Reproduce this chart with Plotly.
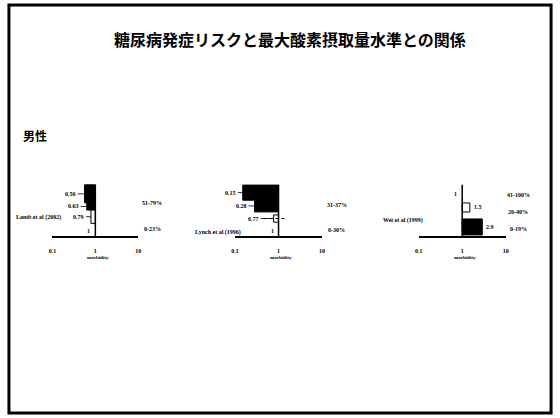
import math
import plotly.graph_objects as go

# ---------------- data ----------------
title_text = "糖尿病発症リスクと最大酸素摂取量水準との関係"
sex_label = "男性"
axis_title = "morbidity"
tick_vals = [0.1, 1, 10]
tick_text = ["0.1", "1", "10"]

p1_study = "Lamb et al (2002)"
p1_rr = [0.56, 0.63, 0.79]
p1_groups = ["51-79%", "0-23%"]

p2_study = "Lynch et al (1996)"
p2_rr = [0.15, 0.28, 0.77]
p2_ci_low = [None, None, 0.45]
p2_ci_high = [None, None, 1.5]
p2_groups = ["31-37%", "0-30%"]

p3_study = "Wei et al (1999)"
p3_rr = [1.5, 2.9]
p3_groups = ["41-100%", "20-40%", "0-19%"]

# ---------------- layout helpers ----------------
W, H = 560, 418
def px(x):
    return x / W
def py(y):
    return 1 - y / H

FONT_S = dict(family="Liberation Serif", size=6, color="black", weight="bold")

panels = [
    dict(rr=p1_rr, rows=[3.5, 2.45, 1.6], widths=[1.5, 0.6, 1.1],
         fills=["black", "black", "white"], ref_row=0.45,
         label_side="left", dom=(49, 136), study=p1_study, study_xy=(35, 218),
         groups=p1_groups, group_xy=[(150, 203), (150, 229)], ci=None, label_ax=[-14, -13, -12]),
    dict(rr=p2_rr, rows=[3.6, 2.5, 1.45], widths=[1.25, 1.0, 0.6],
         fills=["black", "black", "white"], ref_row=0.45,
         label_side="left", dom=(234, 322), study=p2_study, study_xy=(217, 232),
         groups=p2_groups, group_xy=[(337, 205), (337, 230)],
         ci=(p2_ci_low, p2_ci_high), label_ax=[-12, -13, -20]),
    dict(rr=p3_rr, rows=[2.37, 0.75], widths=[0.75, 1.33],
         fills=["white", "black"], ref_row=3.5,
         label_side="right", dom=(420, 508), study=p3_study, study_xy=(404, 220),
         groups=p3_groups, group_xy=[(521, 195), (521, 212), (521, 229)], ci=None, label_ax=None),
]

fig = go.Figure()
annotations = []
layout_axes = {}

def paper_text(x, y, text, font):
    return dict(x=px(x), y=py(y), xref="paper", yref="paper", text=text, showarrow=False,
                xanchor="center", yanchor="middle", font=font)

for i, p in enumerate(panels, start=1):
    xa = "x" if i == 1 else f"x{i}"
    ya = "y" if i == 1 else f"y{i}"
    xkey = "xaxis" if i == 1 else f"xaxis{i}"
    ykey = "yaxis" if i == 1 else f"yaxis{i}"

    bases, sizes = [], []
    for v in p["rr"]:
        if v < 1:
            bases.append(v); sizes.append(1 - v)
        else:
            bases.append(1); sizes.append(v - 1)
    fig.add_trace(go.Bar(
        x=sizes, base=bases, y=p["rows"], width=p["widths"], orientation="h",
        marker=dict(color=p["fills"], line=dict(color="black", width=1)),
        xaxis=xa, yaxis=ya, showlegend=False, hoverinfo="skip"))

    # confidence interval lines
    if p["ci"] is not None:
        lo, hi = p["ci"]
        for r, a, b in zip(p["rows"], lo, hi):
            if a is None:
                continue
            fig.add_trace(go.Scatter(x=[a, b], y=[r, r], mode="lines",
                                     line=dict(color="black", width=1, dash="dot"),
                                     xaxis=xa, yaxis=ya, showlegend=False, hoverinfo="skip"))

    # reference line at RR = 1
    fig.add_trace(go.Scatter(x=[1, 1], y=[0, 4.25], mode="lines",
                             line=dict(color="black", width=1.5),
                             xaxis=xa, yaxis=ya, showlegend=False, hoverinfo="skip"))

    # value labels (annotation x on log axes is given in log10 units)
    for k, (v, r) in enumerate(zip(p["rr"], p["rows"])):
        if p["label_side"] == "left":
            annotations.append(dict(x=math.log10(v), y=r, xref=xa, yref=ya, text=str(v),
                                    showarrow=True, arrowhead=0, arrowwidth=0.8,
                                    arrowcolor="black", ax=p["label_ax"][k], ay=0,
                                    font=FONT_S, standoff=0))
        else:
            annotations.append(dict(x=math.log10(v), y=r, xref=xa, yref=ya, text=str(v),
                                    showarrow=False, xanchor="left", xshift=2, font=FONT_S))
    # reference "1"
    annotations.append(dict(x=0, y=p["ref_row"], xref=xa, yref=ya, text="1", showarrow=False,
                            xanchor="right", xshift=-3, font=FONT_S))
    # study name
    sx, sy = p["study_xy"]
    annotations.append(paper_text(sx, sy, p["study"], FONT_S))
    # group labels
    for g, (gx, gy) in zip(p["groups"], p["group_xy"]):
        annotations.append(paper_text(gx, gy, g, FONT_S))
    # axis title
    d0, d1 = p["dom"]
    mid = (d0 + d1) / 2 + 3
    annotations.append(paper_text(mid, 257, axis_title,
                                  dict(family="Liberation Serif", size=5, color="black",
                                       weight="bold")))

    layout_axes[xkey] = dict(type="log", range=[-1, 1], domain=[px(d0), px(d1)], anchor=ya,
                             showline=True, linecolor="black", linewidth=1.5, showgrid=False,
                             zeroline=False, ticks="", tickvals=tick_vals, ticktext=tick_text,
                             tickfont=FONT_S, ticklabelstandoff=8, fixedrange=True)
    layout_axes[ykey] = dict(range=[0, 4.4], domain=[py(236), py(183)], anchor=xa,
                             visible=False, fixedrange=True)

# title and sex label
annotations.append(paper_text(290, 39, title_text,
                              dict(family="Noto Sans CJK JP", size=16, color="black",
                                   weight="bold")))
annotations.append(paper_text(31, 136, sex_label,
                              dict(family="Noto Sans CJK JP", size=12, color="black",
                                   weight="bold")))

fig.update_layout(
    width=W, height=H, margin=dict(l=0, r=0, t=0, b=0),
    paper_bgcolor="white", plot_bgcolor="rgba(0,0,0,0)",
    barmode="overlay", annotations=annotations,
    shapes=[dict(type="rect", xref="paper", yref="paper",
                 x0=px(5), x1=px(554), y0=py(413), y1=py(5),
                 line=dict(color="black", width=3))],
    **layout_axes,
)

fig.write_html("out.html")
